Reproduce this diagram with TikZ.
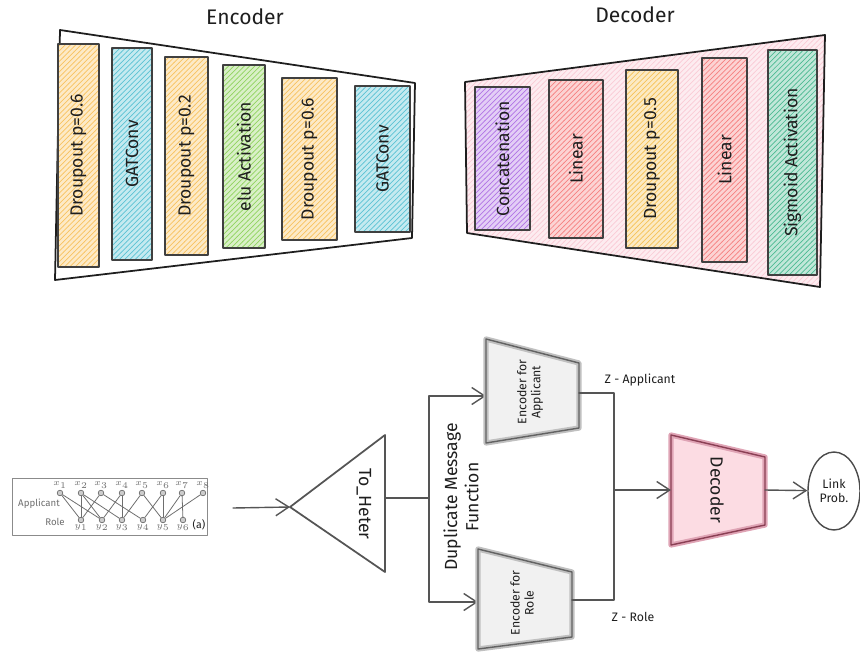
\documentclass[tikz,border=0pt]{standalone}
\usepackage{xcolor}
\usepackage{fontspec}
\setmainfont{Fira Sans}
\usepackage{tikz}
\usetikzlibrary{arrows.meta,patterns,positioning,shapes.geometric}
\definecolor{gdInk}{HTML}{1E1E1E}
\definecolor{gdWire}{HTML}{555555}
\definecolor{gdOrange}{HTML}{F7B944}
\definecolor{gdBlue}{HTML}{3FB8CC}
\definecolor{gdGreen}{HTML}{7FCC45}
\definecolor{gdPurple}{HTML}{A35BE0}
\definecolor{gdRed}{HTML}{F46B6B}
\definecolor{gdYellow}{HTML}{F4B83A}
\definecolor{gdTeal}{HTML}{2FAE80}
\definecolor{gdPink}{HTML}{F7A8BA}
\definecolor{gdRose}{HTML}{C55A78}
\definecolor{gdGray}{HTML}{8C8C8C}
\definecolor{gdGraph}{HTML}{6E6E6E}
\tikzset{
  gd diagram/.style={x=0.02cm, y=-0.02cm, text=gdInk,
    line cap=round, line join=round},
  gd frame/.style={draw=gdInk, line width=1pt},
  gd layer/.style={draw=gdInk!85, line width=0.9pt,
    preaction={fill=#1!30}, pattern=north east lines, pattern color=#1!85},
  gd text/.style={rotate=90, font=\normalsize},
  gd title/.style={font=\large},
  gd wire/.style={draw=gdWire, line width=0.8pt},
  gd arrow/.style={gd wire, -{Straight Barb[length=2.6mm,width=3.4mm]}},
  gd unit/.style={fill=#1!12, draw=#1!55, line width=3pt,
    postaction={draw=#1!70!black, line width=0.8pt}},
  gd small/.style={font=\scriptsize, align=center},
  gd vertex/.style={circle, draw=gdGraph, fill=gdGraph!35, line width=0.4pt,
    inner sep=0pt, minimum size=3.2pt},
  gd tag/.style={font=\fontsize{3.5}{4}\selectfont, text=gdGraph, inner sep=0.5pt},
  gd edge/.style={draw=gdGraph, line width=0.45pt}
}
\begin{document}
\begin{tikzpicture}[gd diagram]
\useasboundingbox (0,0) rectangle (860,653);

% encoder stack
\node[gd title] (encTitle) at (245,17) {Encoder};
\draw[gd frame] (60,30) -- (415,83) -- (412,238) -- (55,280) -- cycle;
\foreach \xa/\ya/\xb/\yb/\col/\txt [count=\i] in {
    58/44/99/267/gdOrange/Droupout p=0.6,
    112/48/152/260/gdBlue/GATConv,
    165/57/208/255/gdOrange/Droupout p=0.2,
    223/65/265/248/gdGreen/elu Activation,
    282/78/337/240/gdOrange/Droupout p=0.6,
    355/86/410/232/gdBlue/GATConv}{
  \draw[gd layer=\col] (\xa,\ya) rectangle (\xb,\yb);
  \node[gd text] (enc\i) at ({(\xa+\xb)/2},{(\ya+\yb)/2}) {\txt};
}

% decoder stack
\node[gd title] (decTitle) at (635,15) {Decoder};
\draw[gd frame, preaction={fill=gdPink!22}, pattern=north east lines,
  pattern color=gdPink!60] (465,82) -- (825,35) -- (820,287) -- (467,233) -- cycle;
\foreach \xa/\ya/\xb/\yb/\col/\txt [count=\i] in {
    475/87/530/230/gdPurple/Concatenation,
    549/80/603/238/gdRed/Linear,
    626/70/678/248/gdYellow/Droupout p=0.5,
    702/58/747/262/gdRed/Linear,
    768/50/817/275/gdTeal/Sigmoid Activation}{
  \draw[gd layer=\col] (\xa,\ya) rectangle (\xb,\yb);
  \node[gd text] (dec\i) at ({(\xa+\xb)/2},{(\ya+\yb)/2}) {\txt};
}

% bipartite graph
\draw[draw=gdGraph!80, line width=0.5pt] (12,478) rectangle (207,535);
\foreach \x [count=\i] in {60,81,101,122,142,163,182,203}
  \node[gd vertex, label={[gd tag]above:$x_{\i}$}] (x\i) at (\x,493) {};
\foreach \x [count=\i] in {81,102,122,143,163,183}
  \node[gd vertex, label={[gd tag]below:$y_{\i}$}] (y\i) at (\x,520) {};
\foreach \a/\b in {1/1,1/2,2/1,2/2,2/3,3/1,3/4,4/2,4/3,5/3,5/5,6/4,6/5,7/5,7/6,8/5}
  \draw[gd edge] (x\a) -- (y\b);
\node[font=\fontsize{5.5}{6}\selectfont, text=gdGraph] (appl) at (39,504) {Applicant};
\node[font=\fontsize{5.5}{6}\selectfont, text=gdGraph] (role) at (55,522) {Role};
\node[font=\fontsize{6}{6}\selectfont, text=gdInk] (tagA) at (199,525) {(a)};

% heterogeneous split
\coordinate (graphOut) at (233,508);
\coordinate (hetIn) at (290,507);
\coordinate (hetOut) at (385,498);
\draw[gd wire, line width=1pt] (hetIn) -- (385,435) -- (385,572) -- cycle;
\node[rotate=-90] (heter) at (364,504) {To\_Heter};
\draw[gd arrow] (graphOut) -- (hetIn);
\coordinate (split) at (429,498);
\coordinate (encAIn) at (486,396);
\coordinate (encRIn) at (478,602);
\draw[gd wire] (hetOut) -- (split);
\draw[gd arrow] (split) |- (encAIn);
\draw[gd arrow] (split) |- (encRIn);
\node[rotate=90, align=center] (dup) at (461,497) {Duplicate Message\\Function};

% type encoders
\draw[gd unit=gdGray] (486,339) -- (579,363) -- (579,428) -- (486,443) -- cycle;
\node[gd small, rotate=90] (encApp) at (530,392) {Encoder for\\Applicant};
\draw[gd unit=gdGray] (478,549) -- (572,572) -- (572,637) -- (478,649) -- cycle;
\node[gd small, rotate=90] (encRole) at (522,603) {Encoder for\\Role};
\coordinate (encAOut) at (579,393);
\coordinate (encROut) at (572,600);
\coordinate (merge) at (614,490);
\draw[gd wire] (encAOut) -| (merge);
\draw[gd wire] (encROut) -| (merge);
\node[gd small] (zApp) at (640,380) {Z - Applicant};
\node[gd small] (zRole) at (633,617) {Z - Role};

% link decoder
\draw[gd unit=gdRose, fill=gdPink!40] (671,435) -- (765,457) -- (765,525) -- (671,545) -- cycle;
\node[rotate=-90] (decBox) at (717,490) {Decoder};
\coordinate (decIn) at (671,490);
\coordinate (decOut) at (765,490);
\draw[gd arrow] (merge) -- (decIn);
\node[ellipse, draw=gdInk!80, line width=0.8pt, minimum width=1.04cm,
  minimum height=1.56cm, inner sep=0pt, gd small] (link) at (834,491) {Link\\Prob.};
\draw[gd arrow] (decOut) -- (link);
\end{tikzpicture}
\end{document}
